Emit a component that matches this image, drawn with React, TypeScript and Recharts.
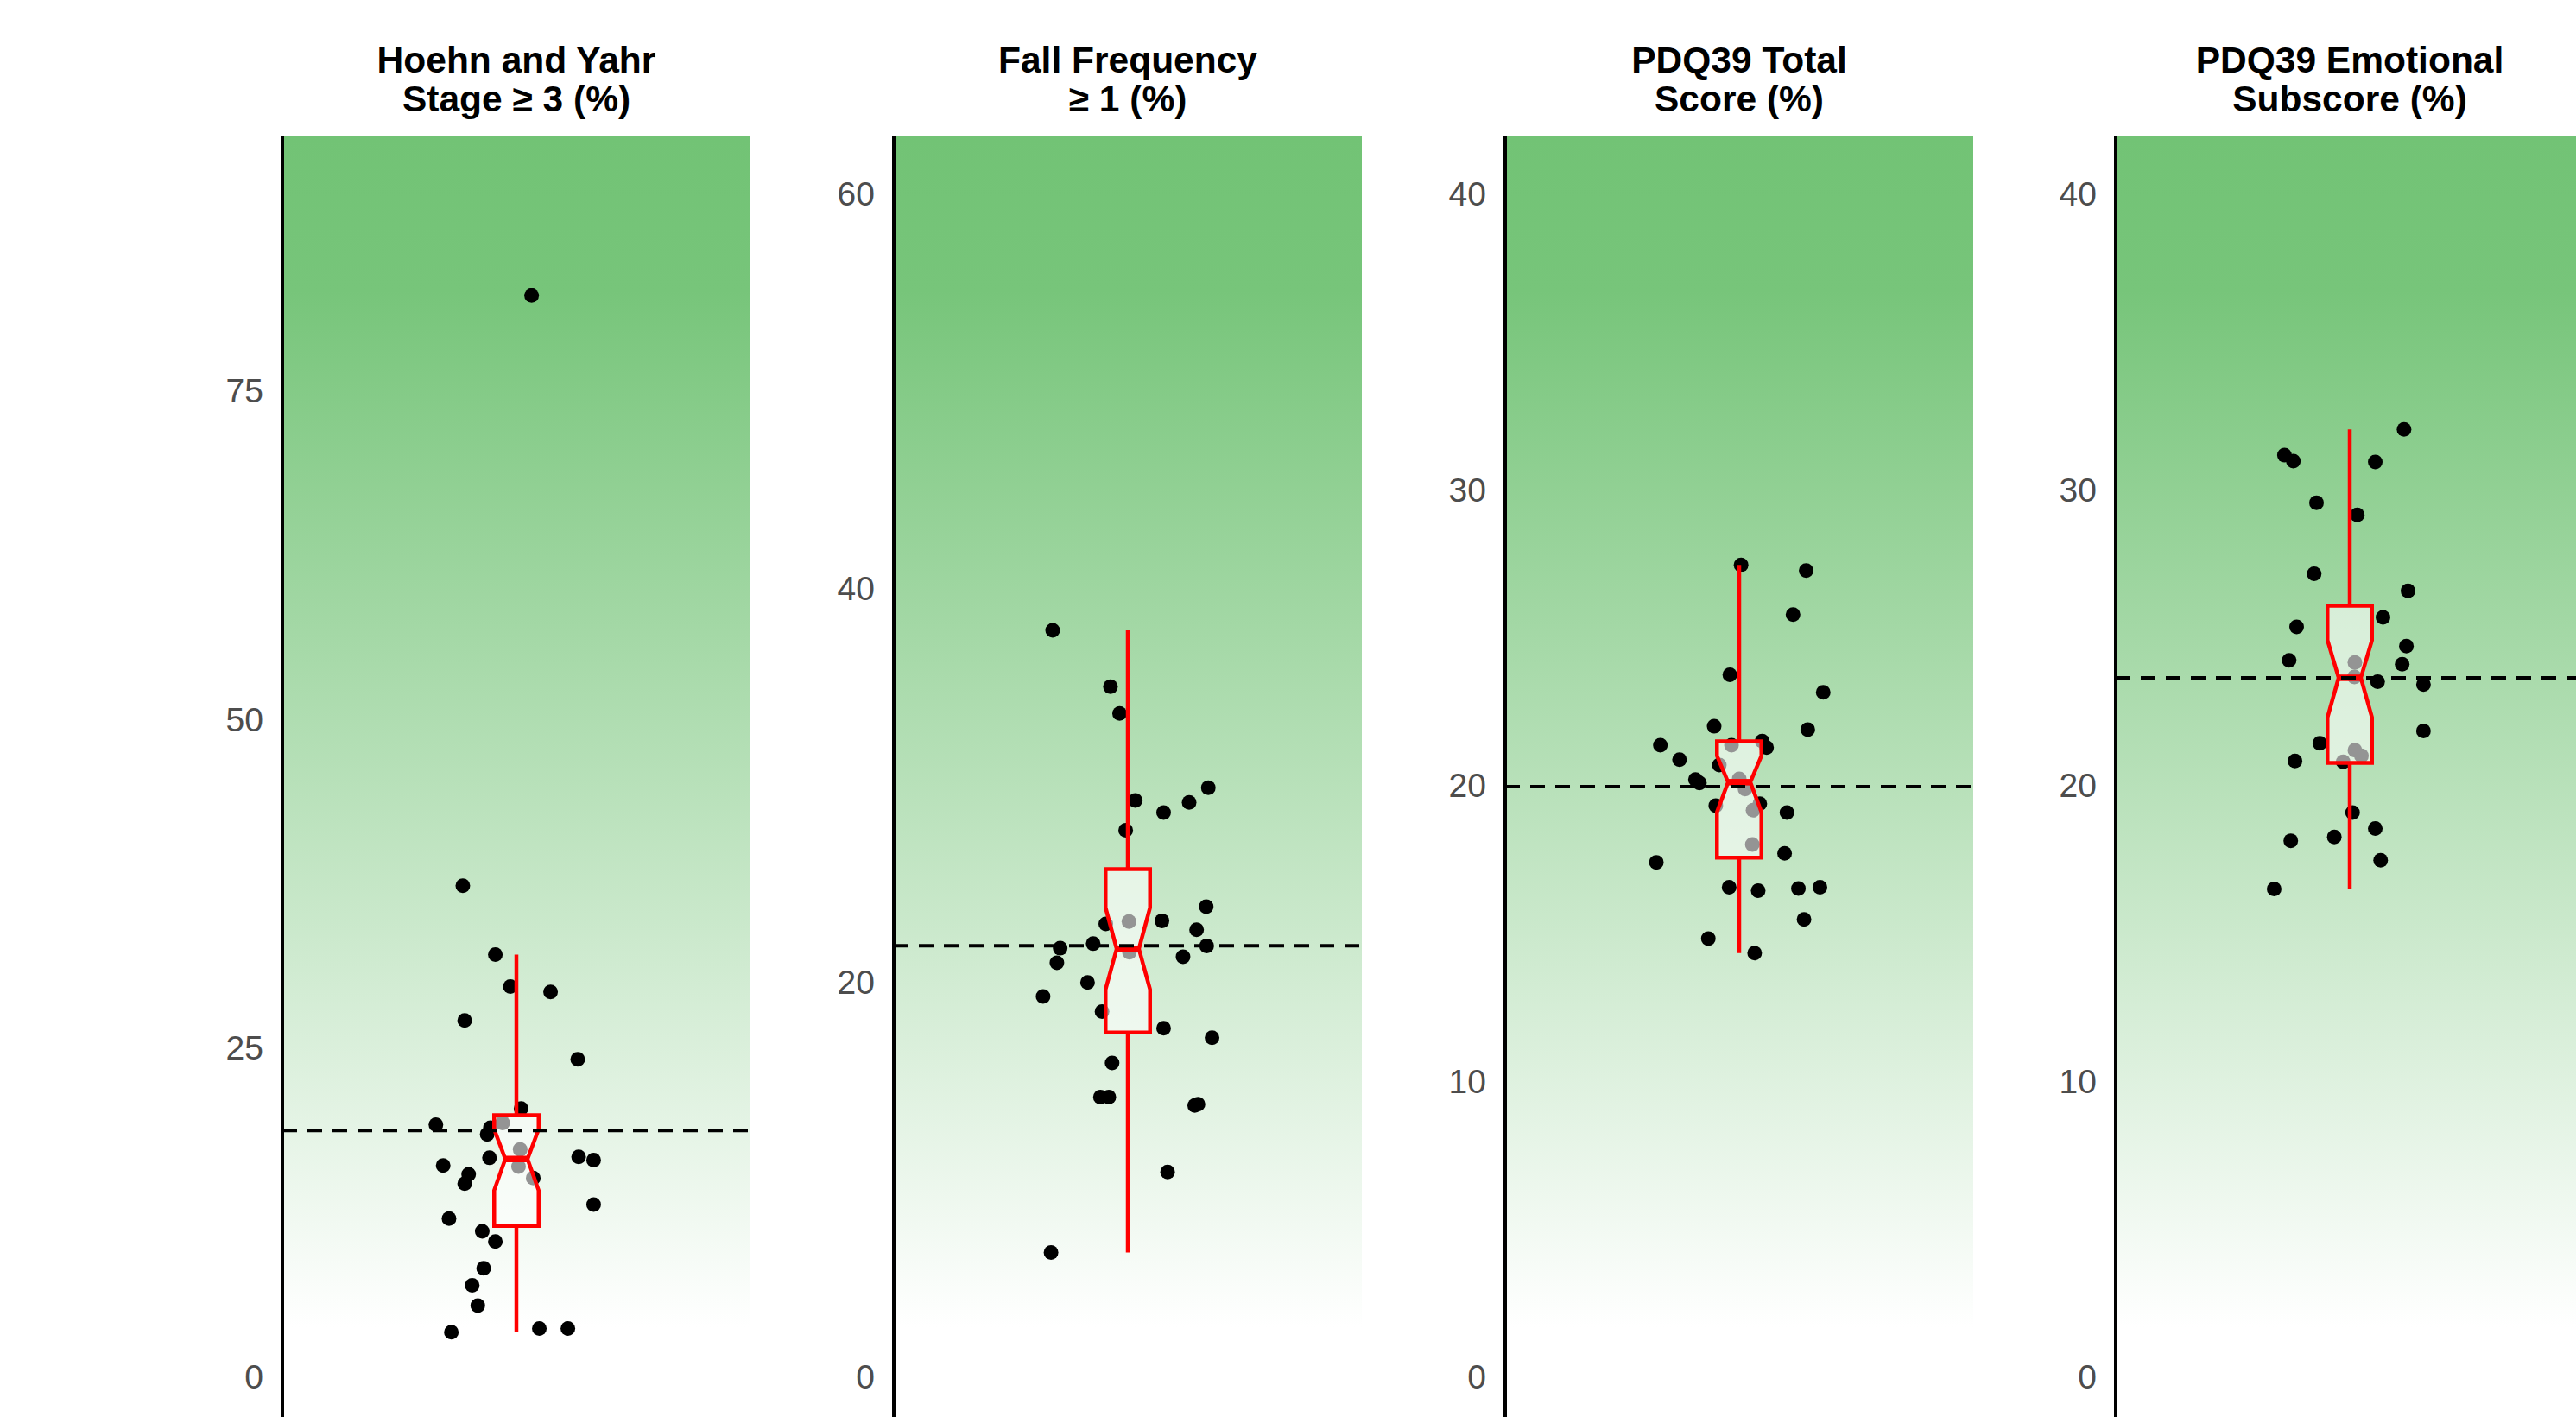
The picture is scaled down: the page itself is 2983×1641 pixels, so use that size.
import React from 'react';
import { ComposedChart, Scatter, XAxis, YAxis, ReferenceArea, ReferenceLine } from 'recharts';

// panel headers
const panelTitles = [
  ['Hoehn and Yahr', 'Stage ≥ 3 (%)'],
  ['Fall Frequency', '≥ 1 (%)'],
  ['PDQ39 Total', 'Score (%)'],
  ['PDQ39 Emotional', 'Subscore (%)'],
];

const yTicks = [
  [0, 25, 50, 75],
  [0, 20, 40, 60],
  [0, 10, 20, 30, 40],
  [0, 10, 20, 30, 40],
];
const yDomains = [
  [-3.09, 94.35],
  [-2.06, 62.9],
  [-1.37, 41.94],
  [-1.37, 41.94],
];
// dashed reference line per panel
const referenceValues = [18.7, 21.85, 19.95, 23.63];

// jittered observations (x = jitter, y = value)
const hoehnX = [-0.229, -0.09, -0.026, 0.146, -0.221, 0.262, 0.02, -0.344, -0.111, -0.125, -0.059, 0.016, -0.115, 0.266, 0.33, -0.313, 0.009, -0.204, -0.221, 0.072, 0.33, -0.288, -0.146, -0.09, -0.14, -0.189, -0.165, -0.278, 0.098, 0.22, 0.065];
const hoehnY = [37.33, 32.09, 29.66, 29.25, 27.08, 24.13, 20.39, 19.15, 18.92, 18.42, 19.29, 17.27, 16.63, 16.71, 16.45, 16.05, 15.97, 15.38, 14.66, 15.09, 13.07, 12.0, 11.04, 10.26, 8.23, 6.93, 5.39, 3.36, 3.65, 3.65, 82.24];

const fallX = [-0.321, -0.074, -0.035, 0.344, 0.032, 0.262, 0.153, -0.009, 0.335, 0.146, 0.005, -0.094, 0.294, -0.148, -0.289, 0.337, -0.303, 0.236, 0.007, -0.172, -0.362, -0.11, 0.153, 0.36, -0.067, -0.117, -0.081, 0.3, 0.286, 0.17, -0.328];
const fallY = [37.84, 34.99, 33.63, 29.86, 29.22, 29.12, 28.6, 27.7, 23.83, 23.11, 23.07, 22.95, 22.66, 21.95, 21.72, 21.84, 20.98, 21.29, 21.52, 19.98, 19.27, 18.51, 17.66, 17.18, 15.9, 14.17, 14.17, 13.81, 13.74, 10.37, 6.28];

const totalX = [0.008, 0.286, 0.23, -0.04, 0.359, -0.107, 0.293, -0.337, 0.098, 0.117, -0.033, -0.255, -0.085, -0.187, -0.17, 0, 0.025, -0.1, 0.088, 0.059, 0.204, 0.056, 0.194, -0.354, -0.043, 0.081, 0.253, 0.345, 0.277, -0.132, 0.066];
const totalY = [27.45, 27.26, 25.77, 23.73, 23.14, 21.99, 21.88, 21.35, 21.49, 21.27, 21.35, 20.86, 20.68, 20.19, 20.07, 20.21, 19.87, 19.31, 19.37, 19.15, 19.07, 17.99, 17.69, 17.39, 16.55, 16.43, 16.5, 16.55, 15.46, 14.81, 14.32];

const emoX = [0.232, -0.279, -0.241, 0.109, -0.142, 0.032, -0.152, 0.249, 0.142, -0.227, 0.242, -0.259, 0.224, 0.022, 0.02, 0.119, 0.315, 0.315, -0.128, -0.234, 0.022, 0.05, -0.028, 0.012, 0.109, -0.066, -0.252, 0.132, -0.323];
const emoY = [32.03, 31.16, 30.96, 30.93, 29.55, 29.14, 27.15, 26.57, 25.67, 25.35, 24.7, 24.22, 24.09, 24.15, 23.66, 23.5, 23.4, 21.83, 21.42, 20.82, 21.18, 20.99, 20.79, 19.07, 18.53, 18.25, 18.12, 17.46, 16.49];

// box stats: [whiskerLow, q1, notchLow, median, notchHigh, q3, whiskerHigh]
const hoehnBox = [3.36, 11.45, 14.15, 16.54, 18.8, 19.87, 32.09];
const fallBox = [6.28, 17.44, 19.63, 21.69, 23.78, 25.73, 37.84];
const totalBox = [14.32, 17.55, 19.09, 20.1, 20.99, 21.48, 27.45];
const emoBox = [16.49, 20.75, 22.29, 23.63, 24.9, 26.07, 32.03];

const seriesX = [hoehnX, fallX, totalX, emoX];
const seriesY = [hoehnY, fallY, totalY, emoY];
const boxes = [hoehnBox, fallBox, totalBox, emoBox];

const AXIS_X = [327, 1035, 1743, 2450];
const LABEL_W = 166;
const PLOT_W = 542;
const CHART_W = LABEL_W + PLOT_W;
const CHART_H = 1641;
const PLOT_TOP = 158;
const BOX_HALF = 0.095;
const RED = '#FF0000';

const Dot = (props: any) => {
  if (props.cx == null || props.cy == null) return <g />;
  return <circle cx={props.cx} cy={props.cy} r={8.5} fill="#000" />;
};

const Nothing = () => <g />;

function Panel({ idx }: { idx: number }) {
  const xs = seriesX[idx];
  const ys = seriesY[idx];
  const points = xs.map((x, i) => ({ x, y: ys[i] }));
  const [wLo, q1, nLo, med, nHi, q3, wHi] = boxes[idx];
  const domain = yDomains[idx];
  const gradId = `bg${idx}`;

  const notched = (p: any) => {
    const { x, y, width, height } = p;
    const py = (v: number) => y + ((q3 - v) / (q3 - q1)) * height;
    const inset = width / 4;
    const r = x + width;
    const d = `M${x},${y} L${r},${y} L${r},${py(nHi)} L${r - inset},${py(med)} L${r},${py(nLo)} L${r},${y + height} L${x},${y + height} L${x},${py(nLo)} L${x + inset},${py(med)} L${x},${py(nHi)} Z`;
    return <path d={d} fill="#FFFFFF" fillOpacity={0.58} stroke={RED} strokeWidth={4.5} />;
  };

  const left = AXIS_X[idx] - LABEL_W;

  return (
    <div style={{ position: 'absolute', left, top: 0, width: CHART_W, height: CHART_H }}>
      <div style={{ position: 'absolute', left: 0, top: 0 }}>
        <ComposedChart width={CHART_W} height={CHART_H} data={points} margin={{ top: PLOT_TOP, right: 0, bottom: 0, left: 0 }}>
          <defs>
            <linearGradient id={gradId} x1="0" y1="0" x2="0" y2="1">
              <stop offset="0" stopColor="#72C375" />
              <stop offset="0.12" stopColor="#77C57A" />
              <stop offset="0.93" stopColor="#FFFFFF" />
              <stop offset="1" stopColor="#FFFFFF" />
            </linearGradient>
          </defs>
          <XAxis type="number" dataKey="x" domain={[-1, 1]} allowDataOverflow hide />
          <YAxis
            type="number"
            dataKey="y"
            domain={domain}
            ticks={yTicks[idx]}
            allowDataOverflow
            width={LABEL_W}
            tickLine={false}
            tickSize={6}
            tickMargin={16}
            axisLine={{ stroke: '#000', strokeWidth: 4 }}
            tick={{ fill: '#4D4D4D', fontSize: 39, fontFamily: 'Liberation Sans, Arial, sans-serif' }}
          />
          <ReferenceArea x1={-1} x2={1} y1={domain[0]} y2={domain[1]} fill={`url(#${gradId})`} fillOpacity={1} stroke="none" />
          <Scatter data={points} dataKey="y" shape={Dot} isAnimationActive={false} />
        </ComposedChart>
      </div>
      <div style={{ position: 'absolute', left: 0, top: 0 }}>
        <ComposedChart width={CHART_W} height={CHART_H} data={[{ x: 0, y: med }]} margin={{ top: PLOT_TOP, right: 0, bottom: 0, left: LABEL_W }}>
          <XAxis type="number" dataKey="x" domain={[-1, 1]} allowDataOverflow hide />
          <YAxis type="number" dataKey="y" domain={domain} allowDataOverflow hide />
          <Scatter data={[{ x: 0, y: med }]} dataKey="y" shape={Nothing} isAnimationActive={false} />
          <ReferenceArea x1={-BOX_HALF} x2={BOX_HALF} y1={q1} y2={q3} shape={notched} ifOverflow="visible" />
          <ReferenceLine segment={[{ x: 0, y: q3 }, { x: 0, y: wHi }]} stroke={RED} strokeWidth={4.5} ifOverflow="visible" />
          <ReferenceLine segment={[{ x: 0, y: wLo }, { x: 0, y: q1 }]} stroke={RED} strokeWidth={4.5} ifOverflow="visible" />
          <ReferenceLine segment={[{ x: -BOX_HALF / 2, y: med }, { x: BOX_HALF / 2, y: med }]} stroke={RED} strokeWidth={7.5} ifOverflow="visible" />
          <ReferenceLine y={referenceValues[idx]} stroke="#000" strokeWidth={4} strokeDasharray="17 12" />
        </ComposedChart>
      </div>
      <div
        style={{
          position: 'absolute',
          left: LABEL_W + PLOT_W / 2 - 300,
          top: 47,
          width: 600,
          textAlign: 'center',
          fontFamily: 'Liberation Sans, Arial, sans-serif',
          fontWeight: 'bold',
          fontSize: 42.5,
          lineHeight: '45px',
          color: '#000',
        }}
      >
        <div>{panelTitles[idx][0]}</div>
        <div>{panelTitles[idx][1]}</div>
      </div>
    </div>
  );
}

export default function App() {
  return (
    <div style={{ position: 'absolute', left: 0, top: 0, width: 2983, height: 1641, overflow: 'hidden', background: '#fff' }}>
      {panelTitles.map((_, i) => (
        <Panel key={i} idx={i} />
      ))}
    </div>
  );
}
